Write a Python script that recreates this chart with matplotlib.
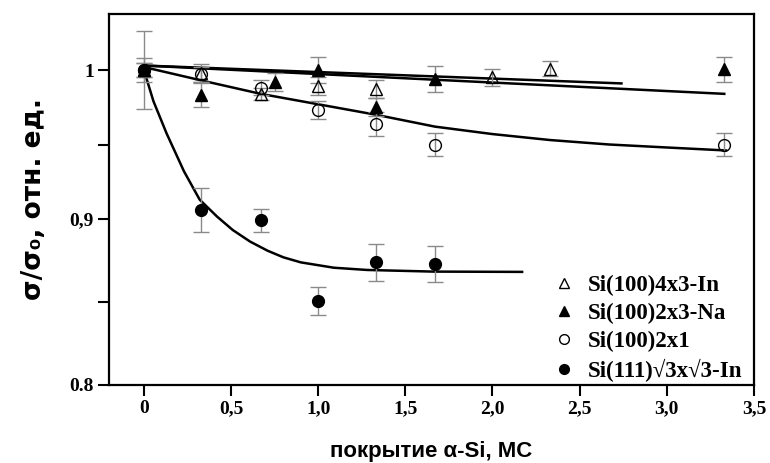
import matplotlib.pyplot as plt
from matplotlib.lines import Line2D

# Si(100)4x3-In (open triangles)
x_in = [0, 0.33, 0.67, 1.0, 1.33, 2.0, 2.33]
y_in = [1.000, 0.998, 0.984, 0.989, 0.987, 0.995, 1.001]
e_in = [0.005, 0.006, 0.004, 0.006, 0.006, 0.006, 0.005]

# Si(100)2x3-Na (filled triangles)
x_na = [0, 0.33, 0.75, 1.0, 1.33, 1.67, 3.33]
y_na = [1.000, 0.983, 0.992, 1.000, 0.975, 0.994, 1.0005]
e_na = [0.005, 0.008, 0.006, 0.009, 0.006, 0.009, 0.0085]

# Si(100)2x1 (open circles)
x_21 = [0, 0.33, 0.67, 1.0, 1.33, 1.67, 3.33]
y_21 = [1.000, 0.997, 0.988, 0.973, 0.964, 0.950, 0.950]
e_21 = [0.008, 0.005, 0.005, 0.006, 0.008, 0.008, 0.008]

# Si(111)sqrt3 x sqrt3-In (filled circles)
x_111 = [0, 0.33, 0.67, 1.0, 1.33, 1.67]
y_111 = [1.000, 0.906, 0.899, 0.845, 0.871, 0.870]
e_111 = [0.026, 0.015, 0.0075, 0.0095, 0.0125, 0.012]

# fitted curves
fit_in_x = [0, 2.74]
fit_in_y = [1.003, 0.991]
fit_na_x = [0, 3.33]
fit_na_y = [1.003, 0.984]
fit_21_x = [0, 0.33, 0.67, 1.0, 1.33, 1.67, 2.0, 2.33, 2.67, 3.0, 3.34]
fit_21_y = [1.002, 0.993, 0.984, 0.977, 0.970, 0.962, 0.957, 0.953, 0.950, 0.948, 0.946]
fit_111_x = [0, 0.055, 0.13, 0.23, 0.32, 0.42, 0.51, 0.61, 0.71, 0.8, 0.9, 1.09, 1.28, 1.66, 2.17]
fit_111_y = [1.0, 0.979, 0.9575, 0.932, 0.913, 0.9016, 0.8926, 0.8848, 0.8787, 0.8743,
             0.8709, 0.8673, 0.8658, 0.8647, 0.8645]

labels = ['Si(100)4x3-In', 'Si(100)2x3-Na', 'Si(100)2x1', 'Si(111)√3x√3-In']
xticks = [0, 0.5, 1.0, 1.5, 2.0, 2.5, 3.0, 3.5]
xtick_labels = ['0', '0,5', '1,0', '1,5', '2,0', '2,5', '3,0', '3,5']

serif = ['Liberation Serif', 'DejaVu Serif']
sans = ['Liberation Sans', 'DejaVu Sans']

fig = plt.figure(figsize=(7.7, 4.63), dpi=100)
ax = fig.add_axes([0.1416, 0.1685, 0.8375, 0.8013])

ecol = '#8a8a8a'
common = dict(ls='none', ecolor=ecol, elinewidth=1.0, capsize=6, capthick=1.0,
              ms=8.5, mec='black', mew=1.0, zorder=3)

ax.plot(fit_in_x, fit_in_y, color='black', lw=1.8, zorder=2)
ax.plot(fit_na_x, fit_na_y, color='black', lw=1.8, zorder=2)
ax.plot(fit_21_x, fit_21_y, color='black', lw=1.8, zorder=2)
ax.plot(fit_111_x, fit_111_y, color='black', lw=1.8, zorder=2)

ax.errorbar(x_111, y_111, yerr=e_111, marker='o', mfc='black', **common)
ax.errorbar(x_21, y_21, yerr=e_21, marker='o', mfc='none', **common)
ax.errorbar(x_na, y_na, yerr=e_na, marker='^', mfc='black', **common)
ax.errorbar(x_in, y_in, yerr=e_in, marker='^', mfc='none', **common)

ax.set_xlim(-0.2, 3.5)
y_bottom = 0.7886
ax.set_ylim(y_bottom, 1.0376)

ax.set_xticks(xticks)
ax.set_xticklabels(xtick_labels)
ax.set_yticks([y_bottom, 0.9, 1.0])
ax.set_yticklabels(['0.8', '0,9', '1'])
ax.set_yticks([0.95, (0.9 + y_bottom) / 2], minor=True)

for lab in ax.get_xticklabels() + ax.get_yticklabels():
    lab.set_family(serif)
    lab.set_fontweight('bold')
    lab.set_fontsize(14)

ax.tick_params(which='both', direction='out', width=1.5, length=8, pad=3)
for s in ax.spines.values():
    s.set_linewidth(1.6)

ax.set_xlabel('покрытие α-Si, МС', family=sans, fontweight='bold', fontsize=16, labelpad=17)
ax.set_ylabel('σ/σ₀, отн. ед.', family=['DejaVu Sans'], fontweight='bold', fontsize=19,
              labelpad=16)

handles = [
    Line2D([], [], ls='none', marker='^', mfc='none', mec='black', ms=7),
    Line2D([], [], ls='none', marker='^', mfc='black', mec='black', ms=7),
    Line2D([], [], ls='none', marker='o', mfc='none', mec='black', ms=7),
    Line2D([], [], ls='none', marker='o', mfc='black', mec='black', ms=7),
]
ax.legend(handles, labels, loc='lower right', bbox_to_anchor=(1.003, -0.03), frameon=False,
          prop=dict(family=serif, weight='bold', size=16.5), handlelength=1.0,
          handletextpad=0.55, labelspacing=0.3, borderaxespad=0.2)

fig.savefig('out.png', dpi=100)
